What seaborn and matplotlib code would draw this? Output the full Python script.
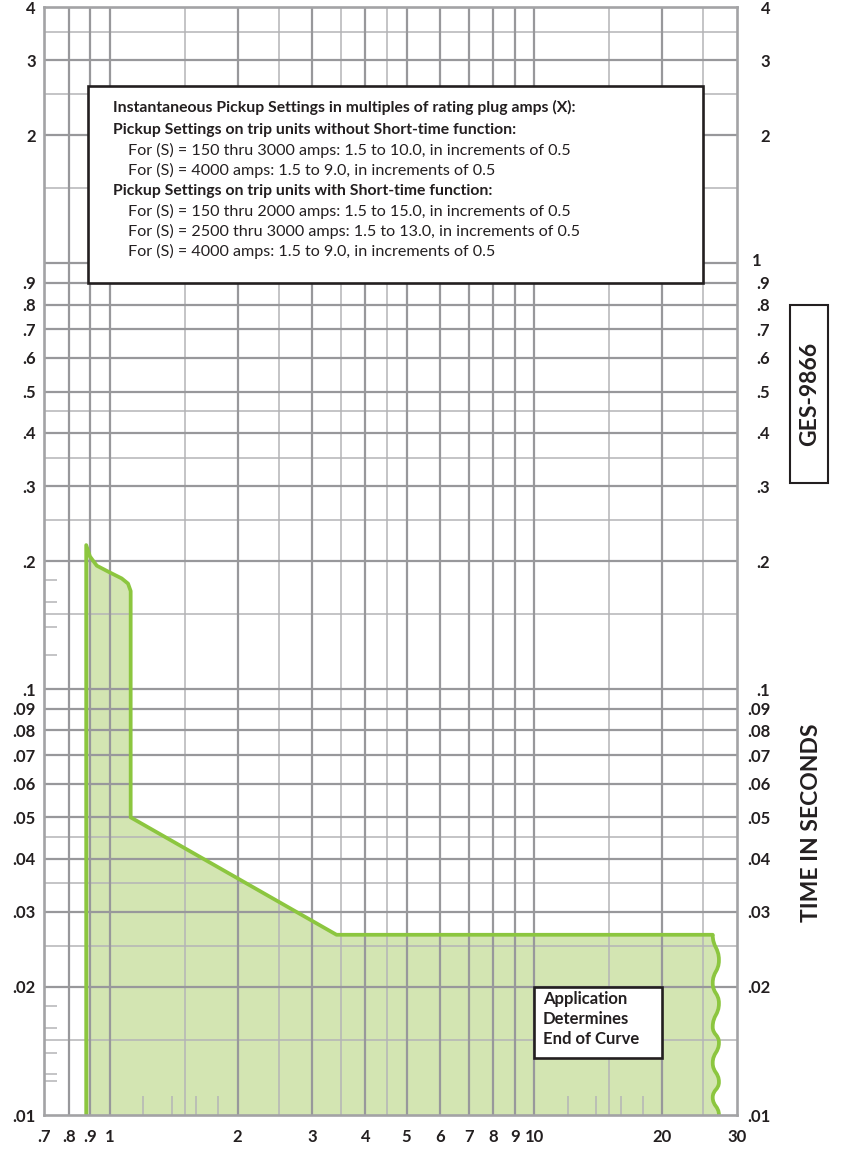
import matplotlib
matplotlib.use("Agg")
import matplotlib.pyplot as plt
import seaborn as sns
import pandas as pd
from matplotlib.path import Path
from matplotlib.patches import PathPatch, Rectangle

# ---------------- data ----------------
curve_x = [0.88, 0.88, 0.898, 0.932, 1.0, 1.067, 1.104, 1.12, 1.12, 3.42, 26.3]
curve_y = [0.01, 0.218, 0.205, 0.195, 0.188, 0.182, 0.177, 0.170, 0.05, 0.0265, 0.0265]
wave_x = [26.3, 27.2, 26.3, 27.2, 26.3, 27.2, 26.3, 27.2, 26.3, 27.2]
wave_y = [0.0265, 0.0231, 0.0204, 0.0183, 0.0161, 0.0148, 0.01325, 0.01195, 0.0110, 0.01]

x_ticks = [0.7, 0.8, 0.9, 1, 2, 3, 4, 5, 6, 7, 8, 9, 10, 20, 30]
x_labels = [".7", ".8", ".9", "1", "2", "3", "4", "5", "6", "7", "8", "9", "10", "20", "30"]
x_dark = [0.8, 0.9, 1, 2, 3, 4, 5, 6, 7, 8, 9, 10, 20]
x_light = [1.5, 2.5, 3.5, 4.5, 15, 25]
x_short = [1.2, 1.4, 1.6, 1.8, 12, 14, 16, 18]

y_ticks = [4, 3, 2, .9, .8, .7, .6, .5, .4, .3, .2, .1, .09, .08, .07, .06, .05, .04, .03, .02, .01]
y_labels = ["4", "3", "2", ".9", ".8", ".7", ".6", ".5", ".4", ".3", ".2", ".1",
            ".09", ".08", ".07", ".06", ".05", ".04", ".03", ".02", ".01"]
y_dark = [3, 2, 1, .9, .8, .7, .6, .5, .4, .3, .2, .1, .09, .08, .07, .06, .05, .04, .03, .02]
y_light = [3.5, 2.5, 1.5, .45, .35, .25, .15, .045, .035, .025, .015]
y_short = [.18, .16, .14, .12, .018, .016, .014, .0125, .012]

box_lines = [
    ("Instantaneous Pickup Settings in multiples of rating plug amps (X):", True),
    ("Pickup Settings on trip units without Short-time function:", True),
    ("For (S) = 150 thru 3000 amps: 1.5 to 10.0, in increments of 0.5", False),
    ("For (S) = 4000 amps: 1.5 to 9.0, in increments of 0.5", False),
    ("Pickup Settings on trip units with Short-time function:", True),
    ("For (S) = 150 thru 2000 amps: 1.5 to 15.0, in increments of 0.5", False),
    ("For (S) = 2500 thru 3000 amps: 1.5 to 13.0, in increments of 0.5", False),
    ("For (S) = 4000 amps: 1.5 to 9.0, in increments of 0.5", False),
]
app_text = "Application\nDetermines\nEnd of Curve"
app_box = (10, 0.0136, 20, 0.02)   # x0, y0, x1, y1 in data units

# ---------------- style ----------------
sns.set_theme(style="white")
plt.rcParams["font.family"] = ["Lato", "DejaVu Sans"]
TXT = "#231f20"
GREEN = "#8cc63f"
FILL = "#d3e5b2"
DARK = "#98989b"
LIGHT = "#b4b4b6"
SPINE = "#a3a3a5"
LBL = 12

W, H = 845, 1157
fig = plt.figure(figsize=(W / 100, H / 100), dpi=100)
L, R, T, B = 44, 737, 7, 1115
ax = fig.add_axes([L / W, 1 - B / H, (R - L) / W, (B - T) / H])
ax.set_xscale("log")
ax.set_yscale("log")
ax.set_xlim(0.7, 30)
ax.set_ylim(0.01, 4)

# grid
for v in x_light:
    ax.axvline(v, color=LIGHT, lw=1.1, zorder=1)
for v in y_light:
    ax.axhline(v, color=LIGHT, lw=1.1, zorder=1)
for v in x_dark:
    ax.axvline(v, color=DARK, lw=1.6, zorder=1.1)
for v in y_dark:
    ax.axhline(v, color=DARK, lw=1.6, zorder=1.1)

# fill + outline
verts = list(zip(curve_x, curve_y))
codes = [Path.MOVETO] + [Path.LINETO] * (len(curve_x) - 1)
for i in range(1, len(wave_x)):
    x0, y0 = wave_x[i - 1], wave_y[i - 1]
    x1, y1 = wave_x[i], wave_y[i]
    ym = (y0 * y1) ** 0.5
    verts += [(x0, ym), (x1, ym), (x1, y1)]
    codes += [Path.CURVE4] * 3
path = Path(verts, codes)
ax.add_patch(PathPatch(path, facecolor=FILL, edgecolor="none", zorder=0.5))

df = pd.DataFrame({"x": curve_x, "y": curve_y})
sns.lineplot(data=df, x="x", y="y", sort=False, estimator=None, color=GREEN,
             lw=2.7, ax=ax, zorder=3)
wave_path = Path(verts[len(curve_x) - 1:], [Path.MOVETO] + codes[len(curve_x):])
ax.add_patch(PathPatch(wave_path, facecolor="none", edgecolor=GREEN, lw=2.7, zorder=3))
ax.set_xlabel("")
ax.set_ylabel("")

# ticks
ax.set_xticks(x_ticks)
ax.set_xticklabels(x_labels)
ax.set_xticks(x_short, minor=True)
ax.set_yticks(y_ticks)
ax.set_yticklabels(y_labels)
ax.set_yticks(y_short, minor=True)
ax.xaxis.set_minor_formatter(plt.NullFormatter())
ax.yaxis.set_minor_formatter(plt.NullFormatter())
ax.tick_params(axis="both", which="major", length=0, labelsize=LBL, labelcolor=TXT)
ax.tick_params(axis="x", which="major", pad=10)
ax.tick_params(axis="y", which="major", pad=6)
ax.tick_params(axis="x", which="minor", direction="in", length=14, width=1.1,
               color=LIGHT, bottom=True)
ax.tick_params(axis="y", which="minor", direction="in", length=9.5, width=1.1,
               color=LIGHT, left=True)
for lab in ax.get_xticklabels() + ax.get_yticklabels():
    lab.set_fontweight("bold")

ax2 = ax.twinx()
ax2.set_yscale("log")
ax2.set_ylim(0.01, 4)
ax2.set_yticks(y_ticks)
ax2.set_yticklabels(y_labels)
ax2.yaxis.set_minor_locator(plt.NullLocator())
ax2.tick_params(axis="y", which="major", length=0, labelsize=LBL, labelcolor=TXT, pad=24)
for lab in ax2.get_yticklabels():
    lab.set_ha("right")
    lab.set_fontweight("bold")
for s in ax2.spines.values():
    s.set_visible(False)
ax.text(1.0216, 1.015, "1", transform=ax.get_yaxis_transform(), ha="left", va="center",
        fontsize=LBL, color=TXT, fontweight="bold")

for s in ax.spines.values():
    s.set_color(SPINE)
    s.set_linewidth(1.9)
    s.set_zorder(6)

# info box
fig.patches.append(Rectangle((88 / W, 1 - 283 / H), (703 - 88) / W, (283 - 86) / H,
                             transform=fig.transFigure, facecolor="white",
                             edgecolor=TXT, lw=1.9, zorder=5))
ys = [107, 130, 150, 170, 191.5, 211.5, 231.5, 251.5]
for (txt, bold), yp in zip(box_lines, ys):
    xp = 113 if bold else 128
    fig.text(xp / W, 1 - yp / H, txt, ha="left", va="center",
             fontsize=11.3 if bold else 11.6,
             fontweight="bold" if bold else "normal", color=TXT, zorder=6)

# application box
x0, y0, x1, y1 = app_box
ax.add_patch(Rectangle((x0, y0), x1 - x0, y1 - y0, facecolor="white", edgecolor=TXT,
                       lw=1.9, zorder=5))
fig.text(543 / W, 1 - 1019 / H, app_text, ha="left", va="center", fontsize=12,
         fontweight="bold", color=TXT, linespacing=1.32, zorder=6)

# right side labels
fig.patches.append(Rectangle((790 / W, 1 - 483 / H), 38 / W, (483 - 305) / H,
                             transform=fig.transFigure, facecolor="white",
                             edgecolor=TXT, lw=1.5, zorder=5))
fig.text(809.5 / W, 1 - 394 / H, "GES-9866", rotation=90, ha="center", va="center",
         fontsize=16.5, fontweight="bold", color=TXT, zorder=6)
fig.text(812 / W, 1 - 922 / H, "TIME IN SECONDS", rotation=90, ha="center", va="bottom",
         fontsize=16.5, fontweight="bold", color=TXT, zorder=6)

fig.savefig("out.png", dpi=100)
